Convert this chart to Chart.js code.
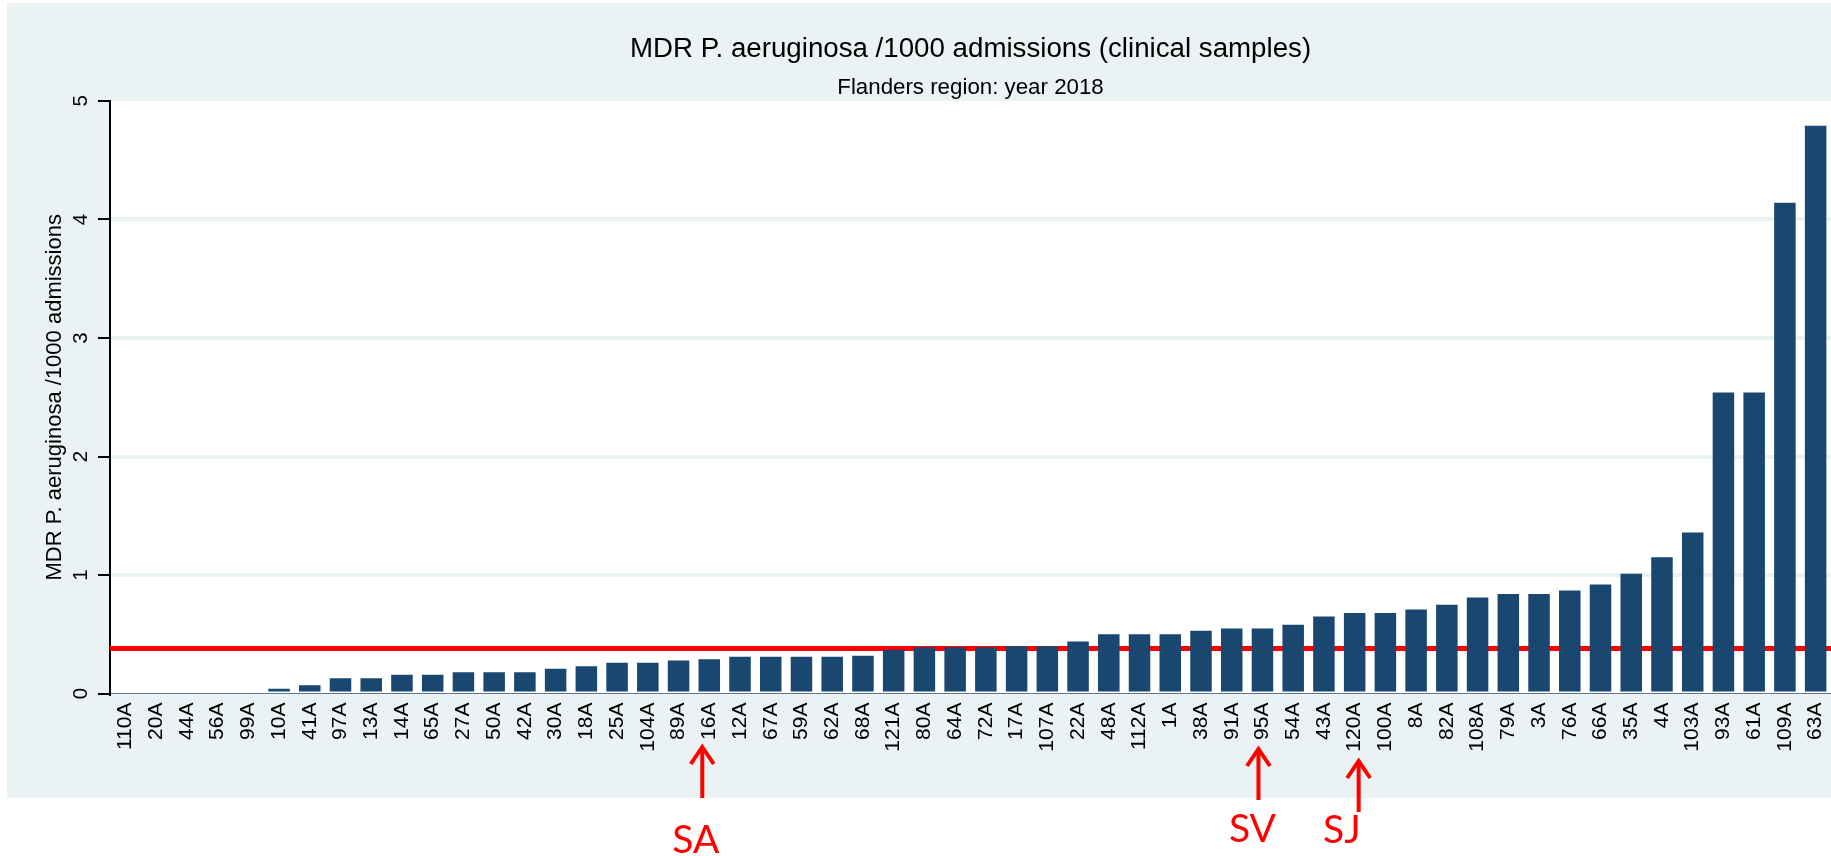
<!DOCTYPE html>
<html>
<head>
<meta charset="utf-8">
<title>MDR P. aeruginosa /1000 admissions</title>
<script src="https://cdn.jsdelivr.net/npm/chart.js@4.4.1/dist/chart.umd.min.js"></script>
<style>
  html, body { margin: 0; padding: 0; background: #ffffff; overflow: hidden; }
  #wrap { position: relative; width: 1831px; height: 856px; overflow: hidden; }
  canvas { display: block; }
</style>
</head>
<body>
<div id="wrap"><canvas id="chart" width="1850" height="856"></canvas></div>
<script>
// Hospitals, sorted by rate
const hospitals = [
  '110A', '20A', '44A', '56A', '99A', '10A', '41A', '97A', '13A', '14A',
  '65A', '27A', '50A', '42A', '30A', '18A', '25A', '104A', '89A', '16A',
  '12A', '67A', '59A', '62A', '68A', '121A', '80A', '64A', '72A', '17A',
  '107A', '22A', '48A', '112A', '1A', '38A', '91A', '95A', '54A', '43A',
  '120A', '100A', '8A', '82A', '108A', '79A', '3A', '76A', '66A', '35A',
  '4A', '103A', '93A', '61A', '109A', '63A'
];

// MDR P. aeruginosa per 1000 admissions (clinical samples)
const mdrRate = [
  0, 0, 0, 0, 0, 0.04, 0.07, 0.13, 0.13, 0.16,
  0.16, 0.18, 0.18, 0.18, 0.21, 0.23, 0.26, 0.26, 0.28, 0.29,
  0.31, 0.31, 0.31, 0.31, 0.32, 0.37, 0.39, 0.39, 0.39, 0.40,
  0.40, 0.44, 0.50, 0.50, 0.50, 0.53, 0.55, 0.55, 0.58, 0.65,
  0.68, 0.68, 0.71, 0.75, 0.81, 0.84, 0.84, 0.87, 0.92, 1.01,
  1.15, 1.36, 2.54, 2.54, 4.14, 4.79
];

// Regional reference level (red line)
const regionalRate = 0.38;

// Y axis tick values
const yTicks = [0, 1, 2, 3, 4, 5];

// Hospitals pointed out below the axis
const markedHospitals = ['16A', '95A', '120A'];
const markerLabels = ['SA', 'SV', 'SJ'];

// Drawing constants
const FONT = '"Liberation Sans", Arial, Helvetica, sans-serif';
const NAVY = '#1A476F';
const PANEL = '#EAF2F3';
const RED = '#FF0000';
const PANEL_RECT = { x: 7, y: 3, bottom: 798 };
const markerStyle = [
  { dx: -7, tipY: 745, tailY: 798, textY: 853, align: 'center', tdx: -6.5 },
  { dx: -4, tipY: 747, tailY: 800, textY: 842, align: 'center', tdx: -6 },
  { dx: 4,  tipY: 759, tailY: 812, textY: 843, align: 'right',  tdx: 2 }
];

const backgroundPlugin = {
  id: 'panelBackground',
  beforeDraw(chart) {
    const { ctx, chartArea, width, height } = chart;
    ctx.save();
    ctx.fillStyle = '#ffffff';
    ctx.fillRect(0, 0, width, height);
    ctx.fillStyle = PANEL;
    ctx.fillRect(PANEL_RECT.x, PANEL_RECT.y, width - PANEL_RECT.x, PANEL_RECT.bottom - PANEL_RECT.y);
    ctx.fillStyle = '#ffffff';
    ctx.fillRect(chartArea.left, chartArea.top, chartArea.right - chartArea.left, chartArea.bottom - chartArea.top);
    ctx.restore();
  }
};

// Regional level, drawn underneath the bars
const referenceLinePlugin = {
  id: 'referenceLine',
  beforeDatasetsDraw(chart) {
    const { ctx, chartArea, scales } = chart;
    const y = scales.y.getPixelForValue(regionalRate);
    ctx.save();
    ctx.strokeStyle = RED;
    ctx.lineWidth = 5;
    ctx.beginPath();
    ctx.moveTo(chartArea.left, y);
    ctx.lineTo(chartArea.right, y);
    ctx.stroke();
    ctx.restore();
  }
};

// Red arrows and names under selected hospitals
const markerPlugin = {
  id: 'hospitalMarkers',
  afterDraw(chart) {
    const { ctx, scales } = chart;
    ctx.save();
    ctx.strokeStyle = RED;
    ctx.fillStyle = RED;
    ctx.lineWidth = 4;
    ctx.lineCap = 'butt';
    ctx.lineJoin = 'miter';
    markedHospitals.forEach((name, i) => {
      const s = markerStyle[i];
      const x = scales.x.getPixelForValue(hospitals.indexOf(name)) + s.dx;
      ctx.beginPath();
      ctx.moveTo(x, s.tailY);
      ctx.lineTo(x, s.tipY + 3);
      ctx.stroke();
      ctx.beginPath();
      ctx.moveTo(x - 11.5, s.tipY + 19);
      ctx.lineTo(x, s.tipY + 2);
      ctx.lineTo(x + 11.5, s.tipY + 19);
      ctx.stroke();
      ctx.font = '39px Lato, "Open Sans", sans-serif';
      ctx.textAlign = s.align;
      ctx.textBaseline = 'alphabetic';
      ctx.fillText(markerLabels[i], x + s.tdx, s.textY);
    });
    ctx.restore();
  }
};

Chart.defaults.font.family = FONT;
Chart.defaults.color = '#000000';

new Chart(document.getElementById('chart'), {
  type: 'bar',
  data: {
    labels: hospitals,
    datasets: [{
      data: mdrRate,
      backgroundColor: NAVY,
      borderWidth: 0,
      barPercentage: 0.7,
      categoryPercentage: 1.0
    }]
  },
  options: {
    responsive: false,
    animation: false,
    devicePixelRatio: 1,
    layout: { padding: { left: 0, right: 13, top: 0, bottom: 0 } },
    plugins: {
      legend: { display: false },
      tooltip: { enabled: false },
      title: {
        display: true,
        fullSize: false,
        text: 'MDR P. aeruginosa /1000 admissions (clinical samples)',
        color: '#000000',
        font: { family: FONT, size: 27.7, weight: 'normal' },
        padding: { top: 32.4, bottom: 0 }
      },
      subtitle: {
        display: true,
        fullSize: false,
        text: 'Flanders region: year 2018',
        color: '#000000',
        font: { family: FONT, size: 22.3, weight: 'normal' },
        padding: { top: 8.5, bottom: 0 }
      }
    },
    scales: {
      x: {
        type: 'category',
        offset: true,
        grid: { display: false, drawTicks: false },
        border: { display: true, color: '#5d7890', width: 1 },
        ticks: {
          autoSkip: false,
          minRotation: 90,
          maxRotation: 90,
          padding: 9,
          color: '#000000',
          font: { family: FONT, size: 21 }
        },
        afterFit(scale) { scale.height = 162.4; }
      },
      y: {
        min: 0,
        max: 5,
        afterBuildTicks(scale) { scale.ticks = yTicks.map(v => ({ value: v })); },
        grid: {
          color: ctx => (ctx.tick && ctx.tick.value > 0 && ctx.tick.value < 5) ? PANEL : 'rgba(0,0,0,0)',
          lineWidth: 4,
          drawTicks: true,
          tickLength: 12,
          tickColor: '#000000',
          tickWidth: 2
        },
        border: { display: true, color: '#000000', width: 2 },
        ticks: {
          autoSkip: false,
          minRotation: 90,
          maxRotation: 90,
          crossAlign: 'center',
          padding: 11,
          color: '#000000',
          font: { family: FONT, size: 20.5 }
        },
        title: {
          display: true,
          text: 'MDR P. aeruginosa /1000 admissions',
          color: '#000000',
          font: { family: FONT, size: 22 },
          padding: { top: 42, bottom: 0 }
        },
        afterFit(scale) { scale.width = 110; }
      }
    }
  },
  plugins: [backgroundPlugin, referenceLinePlugin, markerPlugin]
});
</script>
</body>
</html>
